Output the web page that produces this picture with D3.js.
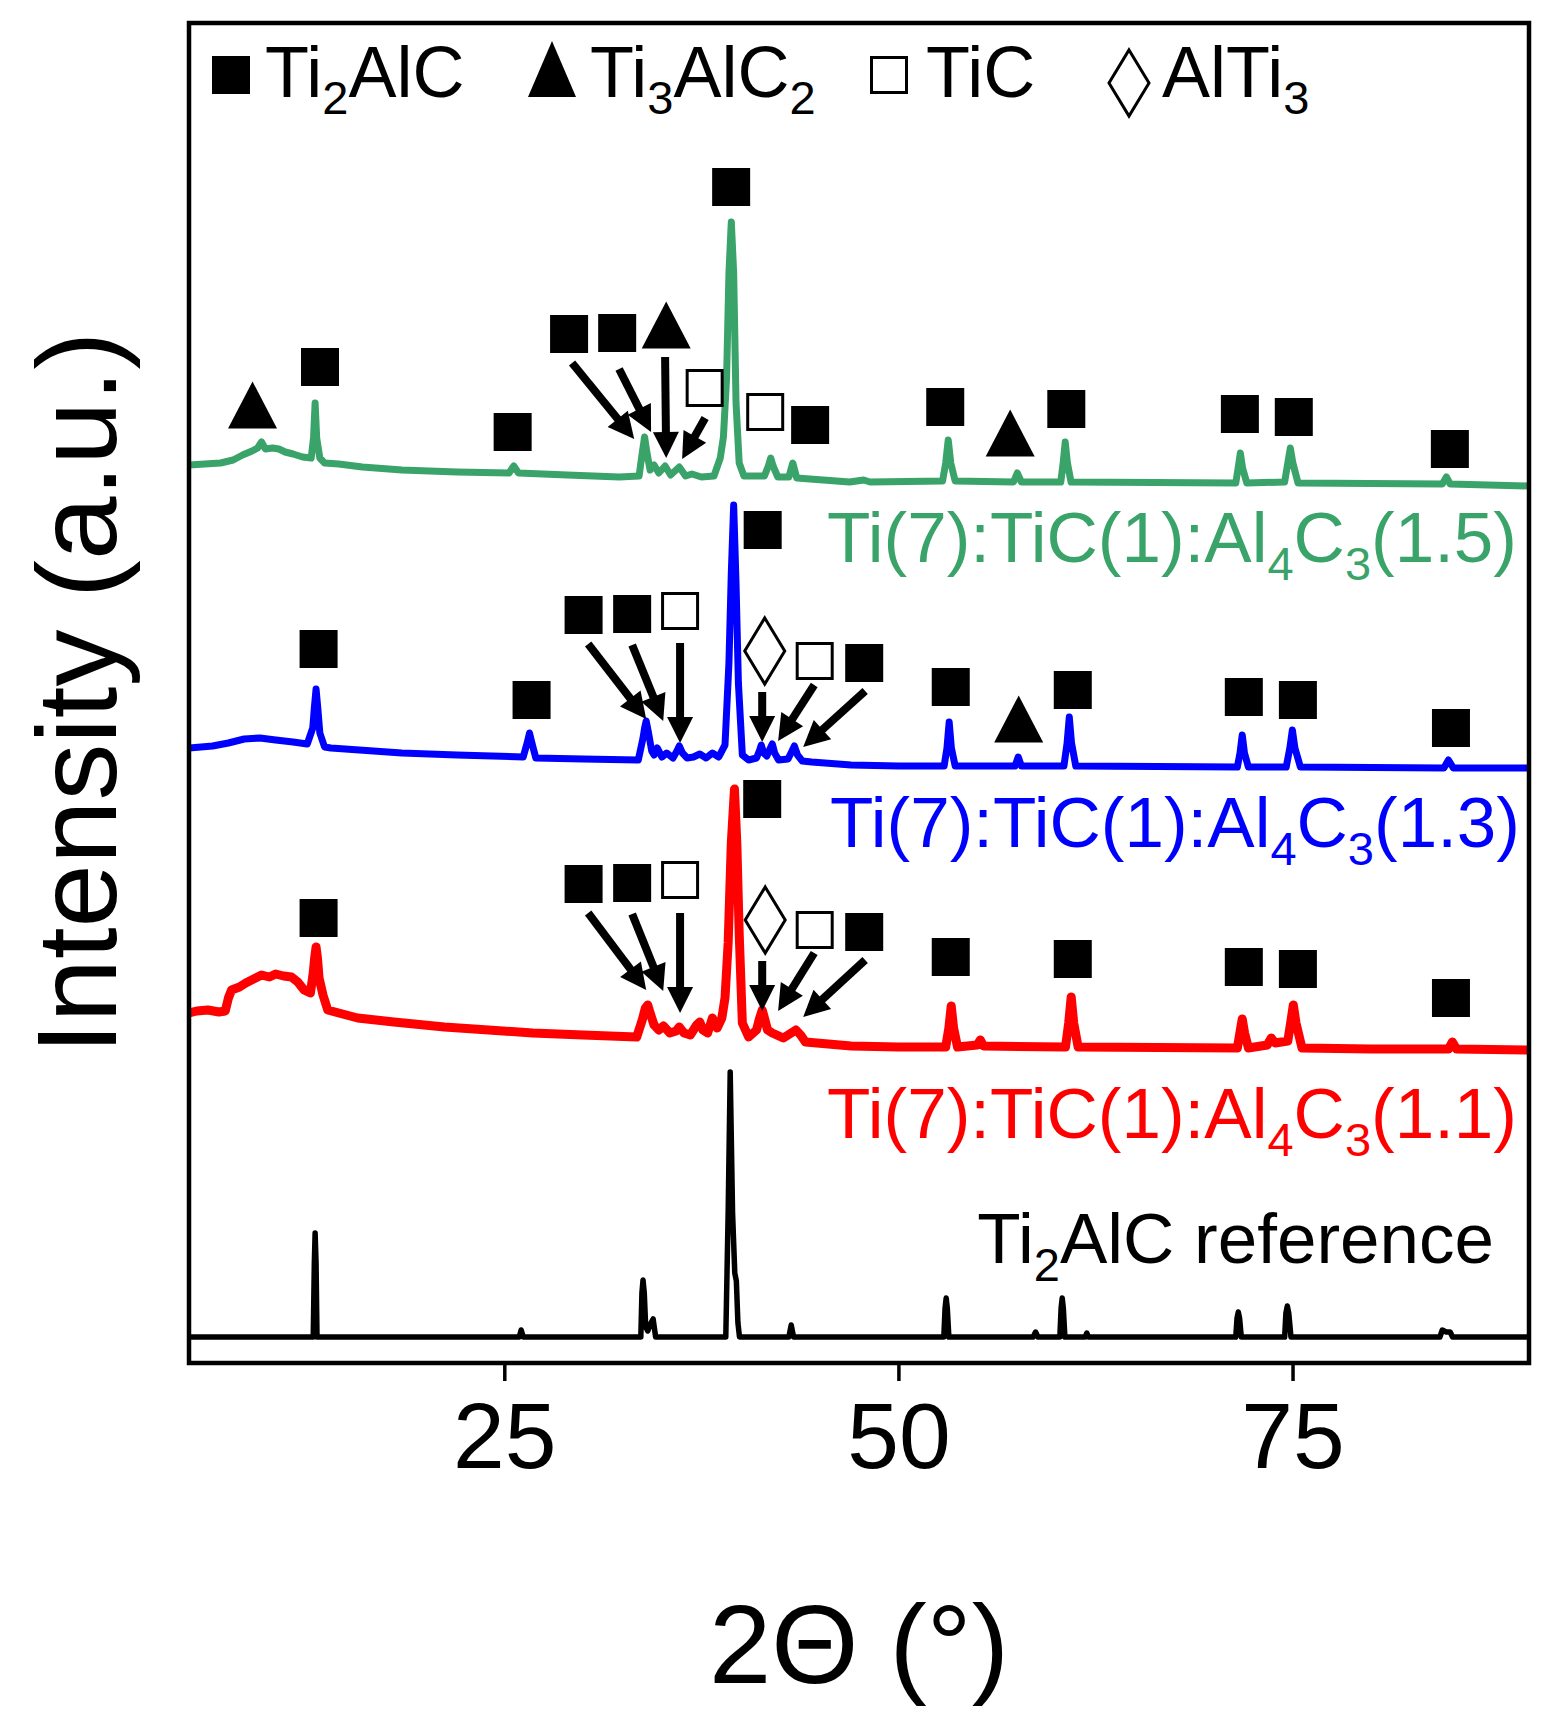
<!DOCTYPE html>
<html>
<head>
<meta charset="utf-8">
<script src="https://cdn.jsdelivr.net/npm/d3@7"></script>
<style>
  html, body { margin: 0; padding: 0; background: #fff; }
  svg { display: block; }
  text { font-family: "Liberation Sans", Arial, Helvetica, sans-serif; }
</style>
</head>
<body>
<svg id="chart" width="1550" height="1735"></svg>
<script>
// ---------------- DATA (2θ in degrees, intensity in a.u. incl. stacking offset) ----------------
const xTicks = [25, 50, 75];
const xDomain = [5, 90];
const yDomain = [0, 1340];

const seriesNames = ["Ti(7):TiC(1):Al4C3(1.5)", "Ti(7):TiC(1):Al4C3(1.3)", "Ti(7):TiC(1):Al4C3(1.1)", "Ti2AlC reference"];
const seriesColors = ["#3aa36a", "#0000ff", "#ff0000", "#000000"];

const green15 = [
[5.0,898],[6.0,899],[7.0,900],[7.8,903],[8.4,908],[9.0,912],[9.35,915],[9.6,921],[9.85,914],[10.3,915],[10.7,914],[11.1,911],[11.6,909],[12.2,906],[12.75,905],[12.9,925],[13.0,960],[13.1,925],[13.3,905],[13.6,900],[14.5,899],[16.0,896],[18.5,893],[22.0,891],[25.3,890],[25.6,897],[25.9,890],[29.0,888],[32.3,886],[33.55,887],[33.75,910],[33.9,926],[34.05,910],[34.25,893],[34.5,898],[34.8,890],[35.2,897],[35.55,888],[36.1,896],[36.5,887],[36.9,889],[37.5,886],[38.3,887],[38.7,905],[38.9,926],[39.1,985],[39.25,1090],[39.4,1141],[39.55,1090],[39.7,960],[39.9,900],[40.2,887],[41.5,887],[41.75,897],[41.9,905],[42.05,897],[42.35,886],[43.05,886],[43.3,900],[43.55,885],[46.9,881],[47.8,883],[48.2,881],[52.8,882],[53.0,900],[53.16,923],[53.32,900],[53.6,882],[57.3,881],[57.54,890],[57.8,881],[60.3,881],[60.45,900],[60.58,921],[60.72,900],[60.95,881],[71.4,880],[71.55,895],[71.69,910],[71.83,895],[72.1,880],[74.5,881],[74.7,900],[74.86,915],[75.02,900],[75.35,880],[84.5,879],[84.76,886],[85.0,879],[90,877]
];

const blue13 = [
[5.0,615],[6.5,617],[7.5,620],[8.5,624],[9.5,625],[10.5,623],[11.6,621],[12.5,619],[12.85,635],[12.95,655],[13.06,674],[13.17,655],[13.3,630],[13.6,616],[14.0,615],[18.5,610],[22.0,608],[26.2,606],[26.45,620],[26.6,630],[26.75,620],[27.0,605],[30.0,604],[33.5,603],[33.8,625],[33.9,635],[34.0,642],[34.15,630],[34.35,612],[34.5,608],[34.7,615],[35.0,606],[35.3,610],[35.7,605],[35.95,612],[36.1,617],[36.3,610],[36.6,605],[37.0,606],[37.4,609],[37.8,605],[38.2,610],[38.6,606],[39.0,618],[39.25,700],[39.4,790],[39.55,858],[39.7,780],[39.85,680],[40.1,608],[40.5,603],[41.0,605],[41.2,613],[41.3,618],[41.45,610],[41.65,607],[41.85,614],[42.0,619],[42.15,610],[42.4,603],[43.0,604],[43.25,612],[43.4,617],[43.6,608],[43.9,602],[44.5,601],[47.0,598],[50.0,597],[52.9,597],[53.08,615],[53.22,641],[53.36,615],[53.6,597],[57.4,597],[57.6,606],[57.8,597],[60.5,597],[60.7,620],[60.84,646],[60.98,620],[61.25,597],[71.5,596],[71.67,610],[71.81,628],[71.95,610],[72.2,596],[74.6,596],[74.83,615],[74.99,633],[75.15,615],[75.5,596],[84.6,595],[84.89,603],[85.2,595],[90,595]
];

const red11 = [
[5.0,350],[5.5,352],[6.2,353],[6.9,351],[7.3,352],[7.5,365],[7.7,373],[8.2,376],[8.6,380],[9.1,384],[9.6,388],[10.1,386],[10.5,389],[11.0,387],[11.5,386],[11.9,381],[12.3,373],[12.7,370],[12.88,390],[12.97,405],[13.06,416],[13.15,405],[13.25,385],[13.5,368],[13.8,353],[14.5,350],[15.7,345],[18.0,341],[21.2,336],[24.0,333],[26.8,330],[30.0,328],[33.4,326],[33.75,343],[33.95,355],[34.1,358],[34.25,350],[34.5,338],[34.8,333],[35.1,337],[35.5,330],[35.9,332],[36.1,336],[36.4,330],[36.8,328],[37.2,338],[37.4,341],[37.6,333],[37.9,330],[38.2,345],[38.5,335],[38.8,345],[39.0,365],[39.2,420],[39.4,520],[39.6,574],[39.75,520],[39.9,430],[40.1,340],[40.5,326],[41.0,333],[41.2,345],[41.36,353],[41.5,345],[41.7,333],[42.0,330],[42.7,325],[43.2,330],[43.5,333],[43.8,328],[44.1,321],[47.0,317],[50.0,316],[53.0,316],[53.2,335],[53.35,357],[53.5,335],[53.75,316],[55.0,318],[55.2,323],[55.4,317],[60.6,316],[60.8,340],[60.96,366],[61.12,340],[61.4,316],[71.5,315],[71.66,330],[71.81,344],[71.96,330],[72.2,315],[73.4,318],[73.65,325],[73.9,320],[74.7,322],[74.88,340],[75.05,358],[75.22,340],[75.6,315],[80.0,314],[84.9,314],[85.14,321],[85.4,314],[90,313]
];

const refTi2AlC = [
[5,26],[12.88,26],[12.95,100],[13.0,130],[13.06,100],[13.12,26],[25.95,26],[26.07,33],[26.2,26],[33.66,26],[33.73,70],[33.8,83],[33.88,70],[33.97,36],[34.1,32],[34.3,40],[34.44,44],[34.6,26],[39.05,26],[39.2,150],[39.33,291],[39.48,150],[39.62,90],[39.72,82],[39.82,40],[39.92,26],[43.05,26],[43.2,38],[43.35,26],[52.88,26],[52.96,55],[53.03,65],[53.1,55],[53.2,26],[58.55,26],[58.7,31],[58.85,26],[60.24,26],[60.32,55],[60.39,65],[60.46,55],[60.56,26],[61.85,26],[61.95,30],[62.05,26],[71.4,26],[71.48,45],[71.56,51],[71.64,45],[71.75,26],[74.5,26],[74.58,50],[74.67,57],[74.76,50],[74.9,26],[84.35,26],[84.5,33],[84.75,31],[85.0,31],[85.15,26],[90,26]
];

// phase markers: [type, 2θ, intensity]   sq = Ti2AlC, tri = Ti3AlC2, osq = TiC, dia = AlTi3
const markersGreen = [
["tri",9.03,958],["sq",13.31,996],["sq",25.53,931],["sq",29.11,1029],["sq",32.16,1030],["tri",35.27,1038],["osq",37.71,975],["sq",39.39,1176],["osq",41.55,951],["sq",44.40,938],["sq",52.97,956],["tri",57.09,930],["sq",60.65,954],["sq",71.66,949],["sq",75.08,946],["sq",84.98,914]
];
const markersBlue = [
["sq",13.22,714],["sq",26.73,663],["sq",30.03,748],["sq",33.11,749],["osq",36.15,752],["sq",41.39,833],["dia",41.52,712],["osq",44.69,702],["sq",47.83,700],["sq",53.32,676],["tri",57.63,644],["sq",61.06,673],["sq",71.91,666],["sq",75.34,663],["sq",85.05,635]
];
const markersRed = [
["sq",13.22,445],["sq",30.03,479],["sq",33.11,480],["osq",36.15,483],["sq",41.36,564],["dia",41.55,443],["osq",44.69,433],["sq",47.83,431],["sq",53.32,406],["sq",61.06,404],["sq",71.91,396],["sq",75.34,394],["sq",85.05,365]
];

// arrows: [2θ start, intensity start, 2θ end, intensity end]
const arrowsGreen = [[29.30,1000,33.24,924],[32.28,994,34.31,931],[35.20,1006,35.27,905],[37.74,945,36.28,904]];
const arrowsBlue = [[30.32,719,34.00,644],[33.11,718,35.08,642],[36.15,720,36.15,620],[41.36,671,41.36,621],[44.66,678,42.37,622],[47.89,672,43.96,616]];
const arrowsRed = [[30.32,450,34.00,373],[33.11,449,35.08,372],[36.15,450,36.15,350],[41.36,402,41.36,352],[44.66,410,42.37,352],[47.89,403,43.96,346]];

// series labels (right-anchored): [2θ, intensity]
const labelPos = [[89.24,801],[89.43,516],[89.24,225],[87.78,100]];
const labelParts = [
  [["Ti(7):TiC(1):Al",0],["4",1],["C",0],["3",1],["(1.5)",0]],
  [["Ti(7):TiC(1):Al",0],["4",1],["C",0],["3",1],["(1.3)",0]],
  [["Ti(7):TiC(1):Al",0],["4",1],["C",0],["3",1],["(1.1)",0]],
  [["Ti",0],["2",1],["AlC reference",0]]
];

const legendTypes = ["sq","tri","osq","dia"];
const legendParts = [
  [["Ti",0],["2",1],["AlC",0]],
  [["Ti",0],["3",1],["AlC",0],["2",1]],
  [["TiC",0]],
  [["AlTi",0],["3",1]]
];

const xTitle = "2\u0398 (\u00B0)";
const yTitle = "Intensity (a.u.)";

// ---------------- DRAWING ----------------
const svg = d3.select("#chart");
const plot = {left: 189, right: 1529, top: 23, bottom: 1363};
const x = d3.scaleLinear().domain(xDomain).range([plot.left, plot.right]);
const y = d3.scaleLinear().domain(yDomain).range([plot.bottom, plot.top]);

svg.append("rect").attr("width",1550).attr("height",1735).attr("fill","#fff");

svg.append("defs").append("clipPath").attr("id","clip")
  .append("rect").attr("x",plot.left).attr("y",plot.top)
  .attr("width",plot.right-plot.left).attr("height",plot.bottom-plot.top);

const line = d3.line().x(d => x(d[0])).y(d => y(d[1]));
const traces = [green15, blue13, red11, refTi2AlC];
const widths = [7, 7, 9, 5.5];
const gTr = svg.append("g").attr("clip-path","url(#clip)");
traces.forEach((t,i) => {
  gTr.append("path").datum(t).attr("d", line)
    .attr("fill","none").attr("stroke", seriesColors[i])
    .attr("stroke-width", widths[i]).attr("stroke-linejoin","round").attr("stroke-linecap","round");
});

function marker(g, type, cx, cy, legend) {
  if (type === "sq") {
    g.append("rect").attr("x",cx-19).attr("y",cy-19).attr("width",38).attr("height",38).attr("fill","#000");
  } else if (type === "osq") {
    g.append("rect").attr("x",cx-17.5).attr("y",cy-17.5).attr("width",35).attr("height",35)
      .attr("fill","#fff").attr("stroke","#000").attr("stroke-width",3);
  } else if (type === "tri") {
    const w = legend ? 48 : 49, h = legend ? 56 : 47;
    g.append("path").attr("d",`M${cx},${cy-h/2}L${cx+w/2},${cy+h/2}L${cx-w/2},${cy+h/2}Z`).attr("fill","#000");
  } else if (type === "dia") {
    const w = 40, h = 66;
    g.append("path").attr("d",`M${cx},${cy-h/2}L${cx+w/2},${cy}L${cx},${cy+h/2}L${cx-w/2},${cy}Z`)
      .attr("fill","#fff").attr("stroke","#000").attr("stroke-width",3).attr("stroke-linejoin","miter");
  }
}

const gM = svg.append("g");
[markersGreen, markersBlue, markersRed].forEach(ms => {
  ms.forEach(m => marker(gM, m[0], x(m[1]), y(m[2]), false));
});

function arrow(g, a) {
  const x1 = x(a[0]), y1 = y(a[1]), x2 = x(a[2]), y2 = y(a[3]);
  const dx = x2-x1, dy = y2-y1, len = Math.hypot(dx,dy);
  const ux = dx/len, uy = dy/len, px = -uy, py = ux;
  const L = 26, W = 13;
  const bx = x2 - ux*L, by = y2 - uy*L;
  g.append("line").attr("x1",x1).attr("y1",y1).attr("x2",bx+ux*2).attr("y2",by+uy*2)
    .attr("stroke","#000").attr("stroke-width",8);
  g.append("path").attr("d",`M${x2},${y2}L${bx+px*W},${by+py*W}L${bx-px*W},${by-py*W}Z`).attr("fill","#000");
}
const gA = svg.append("g");
[arrowsGreen, arrowsBlue, arrowsRed].forEach(as => as.forEach(a => arrow(gA, a)));

function richText(g, parts, size, subSize, shift) {
  const t = g;
  let cur = 0;
  parts.forEach(p => {
    const want = p[1] ? shift : 0;
    t.append("tspan").attr("dy", want - cur).attr("font-size", p[1] ? subSize : size).text(p[0]);
    cur = want;
  });
  return t;
}

// series labels
labelParts.forEach((parts,i) => {
  const t = svg.append("text").attr("x", x(labelPos[i][0])).attr("y", y(labelPos[i][1]))
    .attr("text-anchor","end").attr("fill", seriesColors[i]).attr("font-size", 71);
  richText(t, parts, 71, 47, 18);
});

// legend
const legendMarkerX = [231, 552, 889, 1129];
const legendTextX = [265, 590, 926, 1162];
const legendBase = 97;
legendTypes.forEach((tp,i) => {
  const cy = tp === "dia" ? 83 : (tp === "tri" ? 69 : 75);
  marker(svg, tp, legendMarkerX[i], cy, true);
  const t = svg.append("text").attr("x", legendTextX[i]).attr("y", legendBase)
    .attr("fill","#000").attr("font-size",72);
  richText(t, legendParts[i], 72, 47, 17);
});

// x axis
const xAxis = d3.axisBottom(x).tickValues(xTicks).tickSize(18).tickFormat(d3.format("d"));
const gx = svg.append("g").attr("transform",`translate(0,${plot.bottom})`).call(xAxis);
gx.select(".domain").remove();
gx.selectAll(".tick line").attr("stroke","#000").attr("stroke-width",3.5);
gx.selectAll(".tick text").attr("y",105).attr("dy",null)
  .attr("font-size",93).attr("fill","#000")
  .style("font-family",'"Liberation Sans", Arial, sans-serif');

// frame
svg.append("rect").attr("x",plot.left).attr("y",plot.top)
  .attr("width",plot.right-plot.left).attr("height",plot.bottom-plot.top)
  .attr("fill","none").attr("stroke","#000").attr("stroke-width",4.5);

// axis titles
svg.append("text").attr("x",(plot.left+plot.right)/2).attr("y",1683)
  .attr("text-anchor","middle").attr("font-size",112).attr("fill","#000").text(xTitle);
svg.append("text").attr("transform",`translate(116,${(plot.top+plot.bottom)/2}) rotate(-90)`)
  .attr("text-anchor","middle").attr("font-size",114).attr("fill","#000").text(yTitle);
</script>
</body>
</html>
